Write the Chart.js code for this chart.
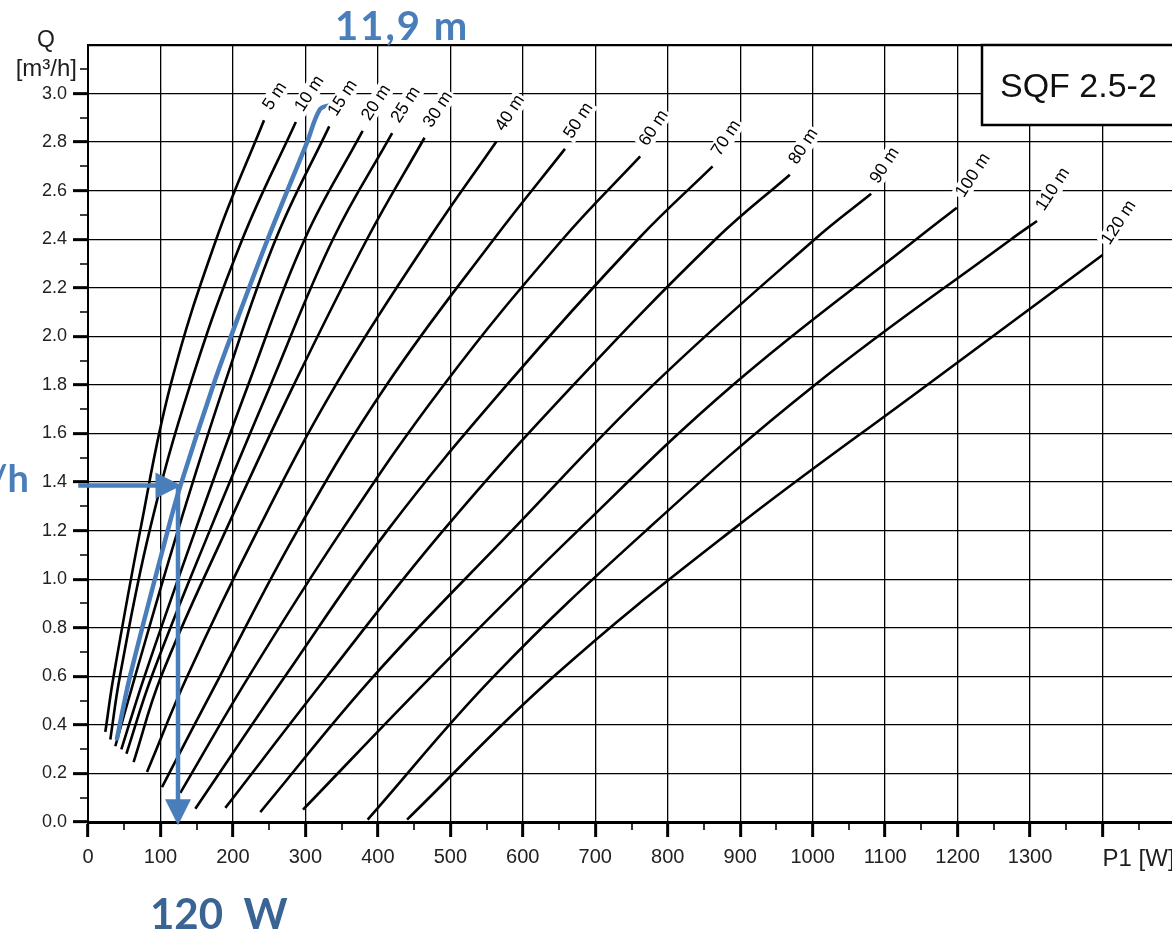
<!DOCTYPE html>
<html><head><meta charset="utf-8">
<script src="https://cdn.jsdelivr.net/npm/chart.js@4/dist/chart.umd.min.js"></script>
<style>html,body{margin:0;padding:0;background:#fff;overflow:hidden;width:1172px;height:932px}canvas{display:block}</style>
</head><body>
<canvas id="c" width="1200" height="932"></canvas>
<script>
// ---- data (P1 [W], Q [m3/h]) ----
const headLabels = ['5 m','10 m','15 m','20 m','25 m','30 m','40 m','50 m','60 m','70 m','80 m','90 m','100 m','110 m','120 m'];
const h5   = [[23.9,0.371],[35.3,0.6],[72,1.2],[114,1.8],[177,2.4],[242.9,2.89]];
const h10  = [[30.8,0.34],[44,0.6],[85,1.2],[141,1.8],[213,2.4],[286.8,2.883]];
const h15  = [[37.7,0.312],[65,0.6],[124,1.2],[188,1.8],[259,2.4],[332.9,2.865]];
const h20  = [[46,0.299],[78,0.6],[148,1.2],[221,1.8],[299,2.4],[379,2.846]];
const h25  = [[53,0.281],[88,0.6],[168,1.2],[252,1.8],[338,2.4],[419.7,2.837]];
const h30  = [[62.9,0.247],[101,0.6],[190,1.2],[284,1.8],[385,2.4],[464.4,2.818]];
const h40  = [[81.4,0.206],[137,0.6],[234,1.2],[342,1.8],[470,2.4],[563.6,2.803]];
const h50  = [[102.1,0.144],[182,0.6],[289,1.2],[412,1.8],[560,2.4],[658.2,2.772]];
const h60  = [[127.4,0.12],[222,0.6],[350,1.2],[491,1.8],[655,2.4],[762,2.741]];
const h70  = [[148.1,0.055],[272,0.6],[413,1.2],[578,1.8],[759,2.4],[861.9,2.70]];
const h80  = [[189.5,0.058],[330,0.6],[490,1.2],[670,1.8],[866,2.4],[968.5,2.666]];
const h90  = [[237.8,0.041],[394,0.6],[585,1.2],[780,1.8],[1003,2.4],[1080.7,2.587]];
const h100 = [[296.7,0.051],[474,0.6],[676,1.2],[890,1.8],[1143,2.4],[1198.9,2.53]];
const h110 = [[385.9,0.01],[560,0.6],[770,1.2],[1003,1.8],[1274,2.4],[1309.6,2.475]];
const h120 = [[440.3,0.01],[643,0.6],[888,1.2],[1158,1.8],[1400,2.335]];
const curves = [h5,h10,h15,h20,h25,h30,h40,h50,h60,h70,h80,h90,h100,h110,h120];
// interpolated duty curve 11.9 m (blue)
const dutyCurve = [[40,0.344],[58,0.6],[110,1.2],[127,1.38],[173,1.8],[201,2.03],[248,2.4],[302,2.797],[320,2.935],[334.4,2.953]];
// duty point arrows: Q = 1.4 m3/h  ->  P1 = 120 W
const arrowQ = [[-13.5,1.386],[129,1.386]];
const arrowP = [[124.2,1.386],[124.2,-0.013]];
const xTickLabels = ['0','100','200','300','400','500','600','700','800','900','1000','1100','1200','1300'];
const yTickLabels = ['0.0','0.2','0.4','0.6','0.8','1.0','1.2','1.4','1.6','1.8','2.0','2.2','2.4','2.6','2.8','3.0'];
const pumpName = 'SQF 2.5-2';
const headText = '11,9 m';
const flowText = '1,4 m³/h';
const powerText = '120  W';

const BLUE = '#4a7ebb';
const BLUE_DARK = '#3a6494';
const pts = a => a.map(p => ({x:p[0], y:p[1]}));
const isMajorY = v => Math.round(v*10) % 2 === 0;
const isMajorX = v => Math.round(v) % 100 === 0;

const datasets = curves.map(c => ({
  data: pts(c), borderColor:'#000', borderWidth:2.6, pointRadius:0, fill:false,
  tension:0.4, order:3
}));
datasets.push({data: pts(dutyCurve), borderColor:BLUE, borderWidth:4.5, pointRadius:0, fill:false,
  tension:0.35, borderCapStyle:'round', order:1});
datasets.push({data: pts(arrowQ.map((p,i)=> i===1 ? [p[0]-20,p[1]] : p)), borderColor:BLUE, borderWidth:4.5, pointRadius:0, clip:false, order:1});
datasets.push({data: pts(arrowP.map((p,i)=> i===1 ? [p[0],p[1]+0.08] : p)), borderColor:BLUE, borderWidth:4.5, pointRadius:0, clip:false, order:1});

const decor = {
  id:'decor',
  afterDatasetsDraw(chart){
    const {ctx, scales:{x,y}} = chart;
    // curve head labels
    ctx.save();
    ctx.font = '17.5px "Liberation Sans", Arial, sans-serif';
    curves.forEach((c,i)=>{
      const last = c[c.length-1];
      const px = x.getPixelForValue(last[0]), py = y.getPixelForValue(last[1]);
      ctx.save();
      ctx.translate(px+3, py-12);
      ctx.rotate(-57*Math.PI/180);
      const w = ctx.measureText(headLabels[i]).width;
      ctx.fillStyle='#fff';
      ctx.fillRect(-2,-9,w+4,18);
      ctx.fillStyle='#000';
      ctx.textAlign='left'; ctx.textBaseline='middle';
      ctx.fillText(headLabels[i],0,0);
      ctx.restore();
    });
    ctx.restore();
    // arrowheads
    const head = (a) => {
      const p0 = {x:x.getPixelForValue(a[0][0]), y:y.getPixelForValue(a[0][1])};
      const p1 = {x:x.getPixelForValue(a[1][0]), y:y.getPixelForValue(a[1][1])};
      const ang = Math.atan2(p1.y-p0.y, p1.x-p0.x);
      ctx.save();
      ctx.translate(p1.x,p1.y); ctx.rotate(ang);
      ctx.beginPath(); ctx.moveTo(0,0); ctx.lineTo(-26,-13); ctx.lineTo(-26,13); ctx.closePath();
      ctx.fillStyle=BLUE; ctx.fill();
      ctx.restore();
    };
    head(arrowQ); head(arrowP);
  },
  afterDraw(chart){
    const {ctx, scales:{x,y}, chartArea:ca} = chart;
    ctx.save();
    // y unit
    ctx.fillStyle='#1e1e1e';
    ctx.font = '23px "Liberation Sans", Arial, sans-serif';
    ctx.textAlign='center'; ctx.textBaseline='alphabetic';
    ctx.fillText('Q', 46, 47);
    ctx.font = '24px "Liberation Sans", Arial, sans-serif';
    ctx.textAlign='right'; ctx.textBaseline='middle';
    ctx.fillText('[m³/h]', 77, y.getPixelForValue(3.1));
    // x unit
    ctx.font = '24px "Liberation Sans", Arial, sans-serif';
    ctx.textAlign='left'; ctx.textBaseline='middle';
    ctx.fillText('P1 [W]', x.getPixelForValue(1400), 859);
    // pump box
    const bx = ca.right-193, by = ca.top, bh = 80;
    ctx.fillStyle='#fff'; ctx.fillRect(bx, by, 300, bh);
    ctx.strokeStyle='#000'; ctx.lineWidth=2.5; ctx.strokeRect(bx, by, 300, bh);
    ctx.fillStyle='#111';
    ctx.font = '34px "Liberation Sans", Arial, sans-serif';
    ctx.textAlign='left'; ctx.textBaseline='middle';
    ctx.fillText(pumpName, bx+18, by+43);
    // blue annotations
    ctx.font = 'bold 40px Lato, "Open Sans", sans-serif';
    ctx.letterSpacing = '2px';
    ctx.fillStyle=BLUE; ctx.textAlign='left'; ctx.textBaseline='alphabetic';
    ctx.fillText(headText, 335, 40);
    ctx.letterSpacing = '0px';
    ctx.font = 'bold 38px Lato, "Open Sans", sans-serif';
    ctx.textAlign='right';
    ctx.fillText(flowText, 29, 492);
    ctx.fillStyle=BLUE_DARK; ctx.textAlign='left';
    ctx.font = 'bold 42px Lato, "Open Sans", sans-serif';
    ctx.fillText(powerText, 150, 929);
    ctx.restore();
  }
};

new Chart(document.getElementById('c'), {
  type:'line',
  data:{datasets},
  options:{
    responsive:false, animation:false, devicePixelRatio:1,
    layout:{padding:{top:45,right:25,left:0,bottom:0}},
    plugins:{legend:{display:false}, tooltip:{enabled:false}},
    scales:{
      x:{type:'linear', min:0, max:1500,
        afterFit(s){ s.height = 110; },
        border:{color:'#000', width:3},
        grid:{
          color: c => isMajorX(c.tick.value) ? '#000' : 'rgba(0,0,0,0)',
          lineWidth: c => isMajorX(c.tick.value) ? 1.3 : 0,
          tickLength:15, tickColor:'#000',
          tickWidth: c => isMajorX(c.tick.value) ? 3 : 1.6,
          tickBorderDash: c => isMajorX(c.tick.value) ? [] : [6,100]
        },
        ticks:{stepSize:50, autoSkip:false, maxRotation:0, padding:8, color:'#222',
          font:{family:'"Liberation Sans Narrow", "Liberation Sans", Arial, sans-serif', size:20},
          callback: v => (isMajorX(v) && xTickLabels[Math.round(v/100)] !== undefined) ? xTickLabels[Math.round(v/100)] : ''}
      },
      y:{type:'linear', min:0, max:3.2,
        afterFit(s){ s.width = 88; },
        border:{color:'#000', width:2},
        grid:{
          color: c => isMajorY(c.tick.value) ? '#000' : 'rgba(0,0,0,0)',
          lineWidth: c => c.tick.value > 3.15 ? 2.2 : (isMajorY(c.tick.value) ? 1.3 : 0),
          tickLength:15,
          tickColor: c => c.tick.value > 3.15 ? 'rgba(0,0,0,0)' : '#000',
          tickWidth: c => isMajorY(c.tick.value) ? 3 : 1.6,
          tickBorderDash: c => isMajorY(c.tick.value) ? [] : [0,7,8,100]
        },
        ticks:{stepSize:0.1, autoSkip:false, padding:6, color:'#222',
          font:{family:'"Liberation Sans", Arial, sans-serif', size:18},
          callback: v => (isMajorY(v) && v < 3.05) ? yTickLabels[Math.round(v*5)] : ''}
      }
    }
  },
  plugins:[decor]
});
</script>
</body></html>
